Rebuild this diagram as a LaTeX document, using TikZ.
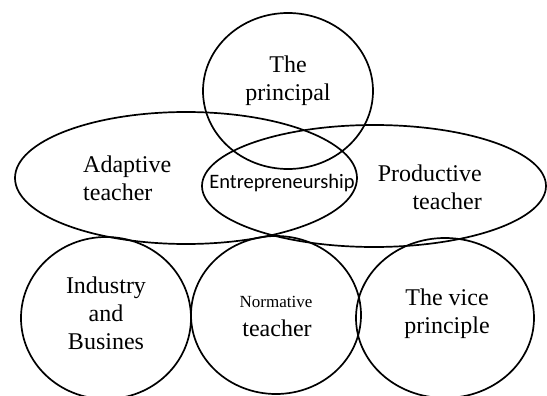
\documentclass[tikz,border=0pt]{standalone}
\usepackage{fontspec}
\setmainfont{Liberation Serif}
\newfontfamily\entfont{Carlito}
\usetikzlibrary{shapes.geometric}
\begin{document}
\begin{tikzpicture}[x=1pt,y=-1pt,
  ring/.style={draw=black,line width=1.7pt,ellipse,inner sep=0pt},
  lbl/.style={font=\fontsize{24}{28}\selectfont,inner sep=0pt,align=center}]
\useasboundingbox (0,0) rectangle (547,396);
\clip (0,0) rectangle (547,396);
% shapes
\node[ring,minimum width=170pt,minimum height=156pt] (princ) at (288,91) {};
\node[ring,minimum width=342pt,minimum height=132pt] (adapt) at (186,178) {};
\node[ring,minimum width=344pt,minimum height=122pt] (prod) at (374,186) {};
\node[ring,minimum width=170pt,minimum height=162pt] (ind) at (106,318) {};
\node[ring,minimum width=170pt,minimum height=158pt] (norm) at (276,315) {};
\node[ring,minimum width=178pt,minimum height=160pt] (vice) at (445,318) {};
% texts
\node[lbl] (tprinc) at (288,81) {The\\principal};
\node[lbl,align=left,anchor=west] (tadapt) at (83,178) {Adaptive\\teacher};
\node[lbl,align=right,anchor=east] (tprod) at (482,187) {Productive\\teacher};
\node[inner sep=0pt,font=\entfont\fontsize{20.5}{24}\selectfont] (tent) at (282,183) {Entrepreneurship};
\node[lbl] (tind) at (106,313) {Industry\\and\\Busines};
\node[inner sep=0pt,font=\fontsize{17}{20}\selectfont] (tnorm1) at (276,302) {Normative};
\node[lbl] (tnorm2) at (277,328) {teacher};
\node[lbl] (tvice) at (447,314) {The vice\\principle};
\end{tikzpicture}
\end{document}
